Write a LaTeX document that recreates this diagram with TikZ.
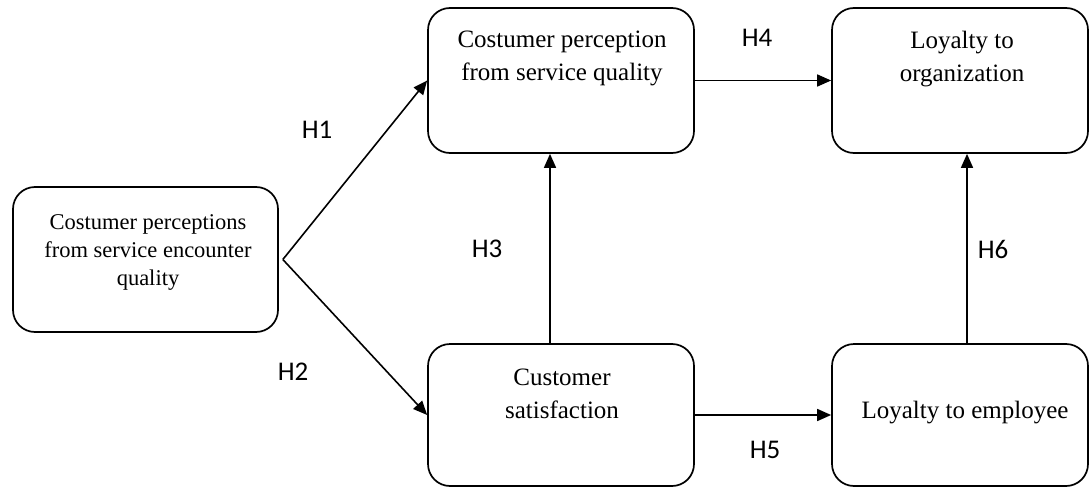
\documentclass[tikz,border=0pt]{standalone}
\usepackage{fontspec}
\setmainfont{Liberation Serif}
\newfontfamily\hfont{Carlito}
\usetikzlibrary{arrows.meta}
\begin{document}
\begin{tikzpicture}[x=1pt,y=-1pt,
  box/.style={draw, line width=1.7pt, rounded corners=22pt, inner sep=0pt},
  txt/.style={align=center, inner sep=0pt, font=\fontsize{25}{33}\selectfont},
  stxt/.style={align=center, inner sep=0pt, font=\fontsize{22.5}{28}\selectfont},
  hlab/.style={inner sep=0pt, font=\hfont\fontsize{27}{30}\selectfont},
  arr/.style={line width=1.6pt, -{Triangle[length=14pt,width=12pt]}}]
\useasboundingbox (0,0) rectangle (1089,487);
% boxes
\node[box, minimum width=265pt, minimum height=145pt] (enc) at (145.5,259.5) {};
\node[box, minimum width=266pt, minimum height=145pt] (qual) at (561,80.5) {};
\node[box, minimum width=256pt, minimum height=145pt] (org) at (960,80.5) {};
\node[box, minimum width=266pt, minimum height=142pt] (sat) at (561,415) {};
\node[box, minimum width=256pt, minimum height=142pt] (emp) at (960,415) {};
% texts
\node[stxt] (tenc) at (148,252) {Costumer perceptions\\from service encounter\\quality};
\node[txt] (tqual) at (562,58.5) {Costumer perception\\from service quality};
\node[txt] (torg) at (962,59.5) {Loyalty to\\organization};
\node[txt] (tsat) at (562,393.5) {Customer\\satisfaction};
\node[txt] (temp) at (965,413) {Loyalty to employee};
% connectors
\coordinate (fork) at ([xshift=4pt]enc.east);
\draw[arr] (fork) -- (qual.west);
\draw[arr] (fork) -- (sat.west);
\draw[arr] ([xshift=-11pt]sat.north) -- ([xshift=-11pt]qual.south);
\draw[arr] (qual.east) -- (org.west);
\draw[arr] (sat.east) -- (emp.west);
\draw[arr] ([xshift=7pt]emp.north) -- ([xshift=7pt]org.south);
% labels
\node[hlab] (h1) at (317,130) {H1};
\node[hlab] (h2) at (293,372) {H2};
\node[hlab] (h3) at (487,249) {H3};
\node[hlab] (h4) at (757,38) {H4};
\node[hlab] (h5) at (765,450) {H5};
\node[hlab] (h6) at (993,249) {H6};
\end{tikzpicture}
\end{document}
